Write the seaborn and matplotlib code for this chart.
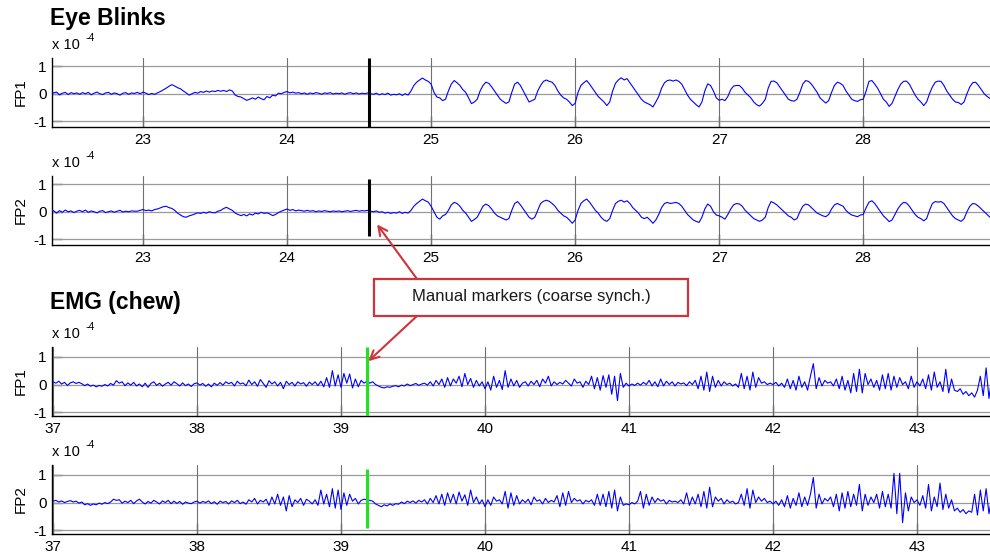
import numpy as np
import pandas as pd
import matplotlib
matplotlib.use("Agg")
import matplotlib.pyplot as plt
import seaborn as sns
from matplotlib.patches import Rectangle, ConnectionPatch

sns.set_theme(style="white")
plt.rcParams['font.family'] = ['Liberation Sans', 'DejaVu Sans']
plt.rcParams['axes.unicode_minus'] = False

# ---------------------------
# data (values in units of 1e-4), one sample every 0.02 s
# ---------------------------
dt = 0.02
blink_t0 = 22.36
emg_t0 = 37.00

blink_fp1 = [
    0.08, 0.03, 0.06, -0.04, 0.02, 0.05, -0.03, 0.04, 0.0, 0.03,      # 22.36
    -0.02, 0.04, 0.0, 0.05, -0.04, 0.02, 0.06, 0.0, -0.03, 0.03,      # 22.56
    0.05, -0.02, 0.03, 0.0, -0.05, 0.02, 0.04, -0.02, 0.03, 0.01,     # 22.76
    0.05, 0.0, 0.06, 0.02, -0.03, 0.01, -0.02, 0.03, 0.08, 0.14,      # 22.96
    0.2, 0.27, 0.33, 0.28, 0.22, 0.18, 0.1, 0.03, -0.05, 0.0,         # 23.16
    0.05, 0.02, 0.08, 0.05, 0.1, 0.06, 0.1, 0.08, 0.12, 0.09,         # 23.36
    0.12, 0.08, 0.14, 0.1, -0.05, -0.1, -0.12, -0.18, -0.24, -0.2,    # 23.56
    -0.15, -0.2, -0.12, -0.18, -0.22, -0.1, -0.15, -0.05, -0.08, 0.02,  # 23.76
    0.0, 0.05, 0.08, 0.03, 0.06, 0.02, 0.04, 0.0, 0.03, -0.02,        # 23.96
    0.03, 0.0, 0.04, 0.02, -0.02, 0.03, 0.01, 0.04, -0.01, 0.02,      # 24.16
    0.0, 0.03, -0.02, 0.02, 0.04, 0.0, 0.03, -0.01, 0.02, 0.0,        # 24.36
    0.03, 0.0, -0.02, 0.02, -0.04, 0.0, -0.03, 0.02, -0.05, -0.02,    # 24.56
    -0.04, 0.0, -0.06, 0.0, -0.05, 0.1, 0.3, 0.42, 0.5, 0.57,         # 24.76
    0.5, 0.45, 0.35, 0.05, -0.12, -0.15, -0.25, -0.2, 0.1, 0.35,      # 24.96
    0.48, 0.4, 0.3, 0.15, 0.05, -0.15, -0.36, -0.3, -0.2, 0.1,        # 25.16
    0.3, 0.42, 0.38, 0.25, 0.1, -0.05, -0.2, -0.28, -0.35, -0.3,      # 25.36
    0.05, 0.35, 0.42, 0.3, 0.1, -0.1, -0.3, -0.25, -0.2, 0.1,         # 25.56
    0.3, 0.45, 0.5, 0.45, 0.42, 0.3, 0.1, -0.05, -0.15, -0.2,         # 25.76
    -0.3, -0.43, -0.35, 0.05, 0.3, 0.4, 0.48, 0.35, 0.2, 0.05,        # 25.96
    -0.1, -0.2, -0.3, -0.43, -0.3, 0.1, 0.38, 0.5, 0.58, 0.5,         # 26.16
    0.55, 0.4, 0.25, 0.1, -0.05, -0.2, -0.3, -0.35, -0.4, -0.48,      # 26.36
    -0.3, -0.1, 0.2, 0.4, 0.48, 0.5, 0.46, 0.5, 0.45, 0.35,           # 26.56
    0.15, -0.05, -0.2, -0.3, -0.4, -0.48, -0.3, 0.1, 0.36, 0.3,       # 26.76
    0.1, -0.15, -0.24, -0.2, -0.25, -0.1, 0.15, 0.28, 0.3, 0.3,       # 26.96
    0.2, 0.05, -0.05, -0.15, -0.3, -0.4, -0.45, -0.35, -0.2, 0.2,     # 27.16
    0.45, 0.46, 0.4, 0.25, 0.1, -0.05, -0.2, -0.25, -0.27, -0.2,      # 27.36
    0.05, 0.35, 0.48, 0.45, 0.35, 0.2, 0.05, -0.15, -0.25, -0.34,     # 27.56
    -0.25, 0.05, 0.3, 0.42, 0.38, 0.3, 0.1, -0.05, -0.2, -0.25,       # 27.76
    -0.28, -0.22, -0.2, 0.1, 0.45, 0.48, 0.35, 0.2, 0.0, -0.2,        # 27.96
    -0.3, -0.46, -0.35, -0.1, 0.15, 0.35, 0.45, 0.46, 0.35, 0.15,     # 28.16
    -0.05, -0.2, -0.3, -0.43, -0.3, 0.0, 0.25, 0.42, 0.46, 0.45,      # 28.36
    0.3, 0.1, -0.05, -0.2, -0.3, -0.32, -0.39, -0.3, 0.0, 0.25,       # 28.56
    0.4, 0.42, 0.3, 0.15, 0.0, -0.1, -0.17, -0.2, -0.22, -0.2,        # 28.76
]

blink_fp2 = [
    0.1, 0.03, -0.05, 0.04, -0.02, 0.06, 0.0, 0.03, -0.03, 0.02,      # 22.36
    0.05, 0.0, 0.06, -0.02, 0.03, 0.0, -0.04, 0.02, 0.04, -0.03,      # 22.56
    0.0, 0.03, -0.02, 0.02, 0.05, -0.01, 0.02, 0.0, 0.03, 0.02,       # 22.76
    0.02, 0.05, 0.08, 0.04, 0.06, 0.03, 0.08, 0.1, 0.14, 0.18,        # 22.96
    0.2, 0.15, 0.12, 0.05, -0.05, -0.12, -0.18, -0.2, -0.15, -0.12,   # 23.16
    -0.08, -0.04, -0.06, -0.02, -0.05, 0.0, -0.03, -0.04, 0.02, 0.05,  # 23.36
    0.12, 0.16, 0.1, 0.05, -0.05, -0.1, -0.14, -0.1, -0.15, -0.08,    # 23.56
    -0.12, -0.05, -0.08, -0.02, -0.06, -0.04, -0.08, -0.14, -0.1, -0.03,  # 23.76
    0.02, 0.06, 0.1, 0.05, 0.08, 0.03, 0.06, 0.04, 0.02, 0.05,        # 23.96
    0.02, 0.04, 0.0, 0.03, 0.01, 0.04, 0.02, 0.0, 0.03, 0.01,         # 24.16
    0.03, 0.0, 0.02, 0.04, 0.01, 0.03, 0.05, 0.02, 0.04, 0.03,        # 24.36
    0.05, 0.02, 0.0, 0.03, -0.02, 0.0, -0.05, -0.02, -0.06, -0.03,    # 24.56
    -0.05, 0.0, -0.06, -0.02, -0.05, 0.05, 0.2, 0.3, 0.38, 0.46,      # 24.76
    0.4, 0.35, 0.2, 0.0, -0.2, -0.27, -0.15, -0.1, 0.05, 0.25,        # 24.96
    0.34, 0.3, 0.2, 0.05, -0.05, -0.2, -0.35, -0.28, -0.2, 0.0,       # 25.16
    0.2, 0.28, 0.22, 0.1, -0.05, -0.15, -0.2, -0.25, -0.3, -0.25,     # 25.36
    0.05, 0.3, 0.37, 0.25, 0.1, -0.05, -0.2, -0.27, -0.2, 0.05,       # 25.56
    0.3, 0.38, 0.42, 0.38, 0.3, 0.2, 0.05, -0.05, -0.15, -0.2,        # 25.76
    -0.3, -0.42, -0.3, 0.05, 0.3, 0.4, 0.46, 0.35, 0.2, 0.05,         # 25.96
    -0.05, -0.2, -0.3, -0.35, -0.25, 0.05, 0.3, 0.38, 0.42, 0.35,     # 26.16
    0.4, 0.3, 0.15, 0.05, -0.05, -0.2, -0.25, -0.2, -0.3, -0.42,      # 26.36
    -0.3, -0.1, 0.15, 0.3, 0.34, 0.3, 0.32, 0.34, 0.3, 0.2,           # 26.56
    0.05, -0.1, -0.2, -0.3, -0.35, -0.39, -0.2, 0.1, 0.28, 0.2,       # 26.76
    0.0, -0.12, -0.15, -0.2, -0.27, -0.1, 0.1, 0.25, 0.3, 0.28,       # 26.96
    0.2, 0.05, -0.05, -0.15, -0.25, -0.3, -0.35, -0.3, -0.2, 0.15,    # 27.16
    0.37, 0.32, 0.25, 0.15, 0.05, -0.05, -0.15, -0.2, -0.3, -0.25,    # 27.36
    0.0, 0.2, 0.28, 0.25, 0.15, 0.05, -0.05, -0.1, -0.15, -0.18,      # 27.56
    -0.1, 0.1, 0.25, 0.3, 0.25, 0.2, 0.05, -0.05, -0.12, -0.15,       # 27.76
    -0.18, -0.12, -0.1, 0.15, 0.35, 0.4, 0.3, 0.15, 0.0, -0.15,       # 27.96
    -0.25, -0.36, -0.3, -0.1, 0.1, 0.25, 0.34, 0.32, 0.2, 0.05,       # 28.16
    -0.1, -0.2, -0.25, -0.33, -0.25, 0.05, 0.3, 0.37, 0.35, 0.37,     # 28.36
    0.3, 0.15, 0.0, -0.15, -0.25, -0.3, -0.35, -0.25, 0.0, 0.2,       # 28.56
    0.3, 0.28, 0.2, 0.1, 0.0, -0.1, -0.2, -0.22, -0.2, -0.2,          # 28.76
]

emg_fp1 = [
    0.1, 0.05, 0.12, 0.02, 0.08, -0.03, 0.06, 0.1, 0.04, 0.08,        # 37.0
    0.03, -0.04, 0.02, -0.06, -0.02, -0.08, -0.03, -0.06, 0.0, -0.05,  # 37.2
    0.04, -0.02, 0.14, 0.05, 0.1, -0.04, 0.06, -0.02, 0.08, -0.05,    # 37.4
    0.02, -0.08, 0.05, -0.1, 0.04, 0.1, -0.03, 0.05, -0.06, 0.02,     # 37.6
    0.08, -0.02, 0.1, 0.03, -0.05, 0.06, -0.04, 0.02, -0.07, 0.03,    # 37.8
    0.06, -0.02, 0.04, -0.06, 0.02, -0.08, 0.05, -0.03, 0.07, -0.02,  # 38.0
    0.1, 0.03, 0.08, -0.05, 0.12, 0.02, 0.06, -0.04, 0.16, 0.0,       # 38.2
    0.1, -0.06, 0.18, 0.04, -0.1, 0.14, 0.02, 0.1, -0.05, 0.08,       # 38.4
    -0.15, 0.12, 0.0, 0.08, -0.05, 0.1, 0.02, 0.07, -0.06, 0.09,      # 38.6
    0.0, 0.1, -0.04, 0.12, -0.08, 0.25, -0.1, 0.5, -0.05, 0.35,       # 38.8
    -0.1, 0.4, 0.05, 0.38, -0.12, 0.2, -0.08, 0.15, 0.05, 0.12,       # 39.0
    0.05, 0.1, 0.0, -0.05, -0.1, -0.12, -0.08, -0.1, -0.06, -0.04,    # 39.2
    -0.08, -0.02, -0.05, 0.02, -0.04, 0.0, 0.04, -0.03, 0.02, 0.05,   # 39.4
    -0.02, 0.1, -0.05, 0.15, 0.0, 0.2, -0.1, 0.25, -0.05, 0.2,        # 39.6
    0.05, 0.3, -0.08, 0.4, 0.0, 0.22, -0.1, 0.15, -0.05, 0.1,         # 39.8
    -0.15, 0.1, -0.2, 0.3, -0.1, 0.15, -0.18, 0.5, -0.1, 0.2,         # 40.0
    -0.05, 0.15, -0.1, 0.05, 0.1, -0.05, 0.12, 0.0, 0.15, -0.08,      # 40.2
    0.2, 0.05, 0.3, -0.05, 0.1, 0.0, 0.08, 0.02, 0.15, 0.05,          # 40.4
    -0.05, 0.2, 0.05, 0.1, -0.1, 0.12, 0.0, 0.3, -0.15, 0.25,         # 40.6
    -0.2, 0.32, -0.1, 0.35, -0.35, 0.3, -0.58, 0.4, -0.1, 0.05,       # 40.8
    -0.05, 0.02, -0.03, 0.05, -0.02, 0.08, 0.0, 0.15, -0.05, 0.1,     # 41.0
    -0.08, 0.2, -0.05, 0.12, 0.0, 0.1, -0.05, 0.08, 0.02, 0.06,       # 41.2
    -0.04, 0.1, 0.0, 0.15, -0.15, 0.3, -0.2, 0.45, -0.25, 0.3,        # 41.4
    -0.1, 0.15, -0.05, 0.1, 0.0, 0.05, -0.05, 0.02, -0.1, 0.4,        # 41.6
    -0.15, 0.3, -0.2, 0.45, -0.1, 0.25, 0.05, 0.1, 0.0, 0.05,         # 41.8
    0.0, 0.08, -0.05, 0.05, -0.1, 0.2, -0.15, 0.15, -0.2, 0.3,        # 42.0
    -0.1, 0.1, -0.2, 0.3, 0.75, -0.15, 0.25, -0.05, 0.15, 0.05,       # 42.2
    0.1, -0.05, 0.2, -0.15, 0.3, -0.2, 0.15, -0.3, 0.4, -0.25,        # 42.4
    0.55, -0.3, 0.4, 0.0, 0.2, -0.1, 0.15, -0.2, 0.35, -0.15,         # 42.6
    0.4, -0.2, 0.3, -0.1, 0.25, 0.0, 0.1, -0.15, 0.3, -0.1,           # 42.8
    0.1, -0.05, 0.2, -0.15, 0.35, -0.2, 0.45, -0.1, 0.1, -0.25,       # 43.0
    0.55, -0.3, 0.2, -0.2, -0.25, -0.15, -0.35, -0.25, -0.4, -0.3,    # 43.2
    -0.45, -0.2, 0.3, -0.4, 0.6, -0.5, 0.3, -0.2, 0.0, 0.1,           # 43.4
]

emg_fp2 = [
    0.05, 0.08, 0.02, 0.06, 0.0, 0.04, 0.07, 0.02, 0.05, -0.02,       # 37.0
    0.02, -0.08, -0.04, -0.1, -0.05, -0.08, -0.02, -0.06, 0.0, -0.04,  # 37.2
    0.02, 0.12, 0.08, 0.1, -0.02, 0.05, 0.0, 0.08, -0.04, 0.06,       # 37.4
    0.12, 0.02, -0.05, 0.04, -0.02, 0.08, 0.02, -0.05, 0.06, 0.0,     # 37.6
    0.08, -0.04, 0.05, -0.03, 0.04, -0.06, 0.02, -0.02, -0.04, 0.02,  # 37.8
    0.05, -0.02, 0.04, 0.0, 0.06, -0.04, 0.03, -0.06, 0.05, 0.0,      # 38.0
    0.04, -0.05, 0.06, 0.0, 0.08, -0.04, 0.02, -0.06, 0.1, 0.02,      # 38.2
    0.15, -0.05, 0.08, 0.02, 0.12, -0.1, 0.2, -0.05, 0.3, -0.1,       # 38.4
    0.2, -0.3, 0.25, -0.15, 0.1, 0.0, 0.15, -0.1, 0.12, 0.05,         # 38.6
    -0.05, 0.1, -0.1, 0.45, -0.05, 0.3, -0.15, 0.5, -0.2, 0.45,       # 38.8
    -0.25, 0.35, -0.1, 0.3, 0.05, 0.15, -0.05, 0.08, 0.12, 0.1,       # 39.0
    0.08, 0.05, -0.05, -0.1, -0.15, -0.08, -0.12, -0.05, -0.1, -0.04,  # 39.2
    -0.06, 0.02, -0.04, 0.05, 0.0, 0.06, -0.02, 0.08, 0.02, 0.1,      # 39.4
    -0.05, 0.15, 0.0, 0.25, -0.05, 0.3, -0.1, 0.35, 0.0, 0.3,         # 39.6
    -0.05, 0.38, 0.05, 0.28, -0.1, 0.45, 0.0, 0.2, -0.05, 0.1,        # 39.8
    -0.15, 0.1, -0.1, 0.2, 0.05, 0.1, -0.05, 0.4, -0.2, 0.35,         # 40.0
    -0.1, 0.25, -0.05, 0.1, 0.0, 0.12, -0.08, 0.2, 0.05, 0.1,         # 40.2
    -0.05, 0.15, 0.0, 0.08, 0.02, 0.25, -0.15, 0.35, -0.1, 0.4,       # 40.4
    0.0, 0.15, 0.05, 0.1, -0.05, 0.08, 0.02, 0.1, -0.1, 0.3,          # 40.6
    -0.1, 0.3, -0.15, 0.4, -0.2, 0.45, -0.3, 0.2, -0.1, -0.05,        # 40.8
    -0.08, 0.0, -0.05, 0.05, 0.4, -0.2, 0.3, -0.1, 0.2, 0.0,          # 41.0
    0.15, 0.05, 0.1, -0.05, 0.08, 0.02, 0.05, 0.0, 0.1, -0.05,        # 41.2
    0.35, -0.1, 0.2, -0.05, 0.3, -0.15, 0.4, -0.2, 0.55, -0.15,       # 41.4
    0.2, 0.05, 0.15, -0.05, 0.1, 0.0, 0.05, -0.05, 0.0, 0.3,          # 41.6
    -0.1, 0.5, -0.2, 0.45, 0.0, 0.2, 0.05, 0.15, 0.0, 0.05,           # 41.8
    -0.05, 0.05, -0.1, 0.1, -0.15, 0.25, -0.2, 0.15, -0.1, 0.35,      # 42.0
    -0.15, 0.2, -0.1, 0.3, 0.9, -0.2, 0.3, -0.05, 0.15, 0.05,         # 42.2
    0.2, -0.15, 0.3, -0.3, 0.35, -0.2, 0.4, -0.15, 0.3, -0.1,         # 42.4
    0.65, -0.3, 0.3, -0.1, 0.2, 0.0, 0.3, -0.2, 0.4, -0.15,           # 42.6
    0.3, -0.2, 1.05, -0.4, 1.05, -0.72, 0.35, -0.3, 0.2, 0.0,         # 42.8
    0.1, -0.1, 0.25, -0.2, 0.65, -0.3, 0.2, -0.15, 0.7, -0.25,        # 43.0
    0.3, -0.2, 0.1, -0.3, -0.2, -0.35, -0.25, -0.4, -0.3, -0.35,      # 43.2
    0.3, -0.45, 0.45, -0.3, 0.5, -0.4, 0.2, -0.1, 0.0, 0.05,          # 43.4
]

blink_ticks = [23, 24, 25, 26, 27, 28]
emg_ticks = [37, 38, 39, 40, 41, 42, 43]
blink_marker = 24.57
emg_marker = 39.18
note_text = "Manual markers (coarse synch.)"


def make_df(t0, values):
    t = t0 + dt * np.arange(len(values))
    return pd.DataFrame({"time": t, "amp": values})


fig = plt.figure(figsize=(9.9, 5.58), dpi=100)

# axes rectangles in figure fraction
L, W = 52 / 990, 938 / 990
H = 69 / 558
ax1 = fig.add_axes([L, 1 - 127 / 558, W, H])
ax2 = fig.add_axes([L, 1 - 245 / 558, W, H])
ax3 = fig.add_axes([L, 1 - 416 / 558, W, H])
ax4 = fig.add_axes([L, 1 - 534 / 558, W, H])

panels = [
    (ax1, make_df(blink_t0, blink_fp1), "FP1", (22.368, 28.88), (-1.21, 1.3), blink_ticks,
     blink_marker, "black", (-1.21, 1.3)),
    (ax2, make_df(blink_t0, blink_fp2), "FP2", (22.368, 28.88), (-1.21, 1.3), blink_ticks,
     blink_marker, "black", (-0.9, 1.2)),
    (ax3, make_df(emg_t0, emg_fp1), "FP1", (36.993, 43.507), (-1.13, 1.35), emg_ticks,
     emg_marker, "#22e022", (-1.13, 1.35)),
    (ax4, make_df(emg_t0, emg_fp2), "FP2", (36.993, 43.507), (-1.13, 1.35), emg_ticks,
     emg_marker, "#22e022", (-0.9, 1.2)),
]

for ax, df, lab, xl, yl, xt, mk, mcol, mspan in panels:
    ax.set_facecolor("white")
    # grid lines
    for y in [-1, 0, 1]:
        ax.axhline(y, color="#9a9a9a", lw=0.9, zorder=1)
    for x in xt:
        ax.axvline(x, color="#707070", lw=0.8, zorder=1)
    sns.lineplot(data=df, x="time", y="amp", ax=ax, color="#0000ff", lw=0.8,
                 estimator=None, sort=False, zorder=3)
    ax.vlines(mk, mspan[0], mspan[1], color=mcol, lw=2.2, zorder=4)
    ax.set_xlim(*xl)
    ax.set_ylim(*yl)
    ax.set_xticks(xt)
    ax.set_yticks([-1, 0, 1])
    ax.set_xlabel("")
    ax.set_ylabel(lab, fontsize=11, color="black", labelpad=4)
    for s in ["top", "right"]:
        ax.spines[s].set_visible(False)
    for s in ["left", "bottom"]:
        ax.spines[s].set_color("black")
        ax.spines[s].set_linewidth(1.0)
    ax.tick_params(axis="x", direction="in", length=8, width=0.9, colors="black",
                   labelsize=11, pad=4, bottom=True, top=False)
    ax.tick_params(axis="y", direction="in", length=7, width=0.9, colors="black",
                   labelsize=11, pad=4, left=True, right=False)
    # MATLAB style exponent label
    ax.annotate("x 10", xy=(0, 1), xycoords="axes fraction", xytext=(0, 4),
                textcoords="offset points", fontsize=10.5, ha="left", va="bottom",
                color="black")
    ax.annotate("-4", xy=(0, 1), xycoords="axes fraction", xytext=(24, 11),
                textcoords="offset points", fontsize=7.5, ha="left", va="bottom",
                color="black")

# section titles
fig.text(50 / 990, 1 - 7 / 558, "Eye Blinks", fontsize=16.5, fontweight="bold",
         ha="left", va="top", color="black")
fig.text(50 / 990, 1 - 291 / 558, "EMG (chew)", fontsize=16.5, fontweight="bold",
         ha="left", va="top", color="black")

# annotation box and arrows
red = "#d0343a"
fig.add_artist(Rectangle((374 / 990, 1 - 316 / 558), 314 / 990, 37 / 558,
                         transform=fig.transFigure, fc="white", ec=red, lw=1.6, zorder=10))
fig.text(531 / 990, 1 - 297 / 558, note_text, fontsize=12, ha="center", va="center",
         color="#1a1a1a", zorder=11)

arrow1 = ConnectionPatch(xyA=(417 / 990, 1 - 279 / 558), coordsA=fig.transFigure,
                         xyB=(24.625, -0.46), coordsB=ax2.transData,
                         arrowstyle="->", color=red, lw=1.5, mutation_scale=16,
                         shrinkA=0, shrinkB=0, zorder=9)
arrow2 = ConnectionPatch(xyA=(417 / 990, 1 - 316 / 558), coordsA=fig.transFigure,
                         xyB=(39.19, 0.84), coordsB=ax3.transData,
                         arrowstyle="->", color=red, lw=1.5, mutation_scale=16,
                         shrinkA=0, shrinkB=0, zorder=9)
fig.add_artist(arrow1)
fig.add_artist(arrow2)

fig.savefig("out.png", dpi=100)
